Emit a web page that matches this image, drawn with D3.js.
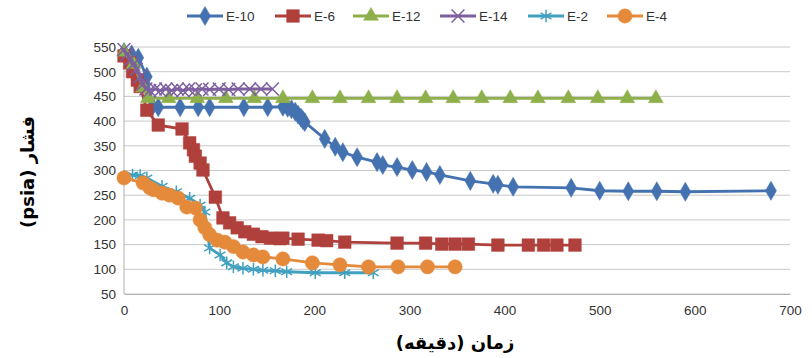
<!DOCTYPE html>
<html><head><meta charset="utf-8">
<script src="https://cdn.jsdelivr.net/npm/d3@7"></script>
<style>body{margin:0;background:#fff}svg{display:block}</style>
</head><body>
<svg id="c" width="812" height="358"></svg>
<script>
const seriesNames = ["E-10","E-6","E-12","E-14","E-2","E-4"];
const colors = ["#4472b0","#b0403c","#8eb04a","#7d5fa0","#40a0bf","#e58a3a"];
const xTicks = [0,100,200,300,400,500,600,700];
const yTicks = [50,100,150,200,250,300,350,400,450,500,550];

const e10 = [[0,540],[8,535],[15,528],[24,490],[30,430],[36,428],[59,428],[78,428],[90,428],[126,428],[151,428],[167,429],[172,427],[176,424],[180,419],[183,413],[186,407],[188,402],[190,398],[211,364],[222,348],[230,337],[245,327],[266,317],[272,311],[287,307],[303,301],[318,297],[332,291],[364,279],[388,273],[393,271],[409,267],[470,265],[500,259],[530,258],[560,258],[590,257],[680,259]];
const e6 = [[0,532],[6,518],[9,500],[14,483],[17,470],[24,422],[36,392],[61,384],[69,356],[73,342],[75,329],[80,315],[83,301],[96,246],[104,204],[111,194],[119,184],[127,176],[136,171],[145,166],[154,163],[164,162],[167,163],[183,161],[204,159],[213,158],[232,155],[287,153],[317,153],[334,151],[348,151],[362,151],[393,149],[425,149],[441,149],[455,149],[474,149]];
const e12 = [[0,540],[10,515],[20,468],[25,446],[47,446],[77,446],[107,446],[137,446],[167,446],[198,446],[227,446],[257,446],[287,446],[317,446],[346,446],[376,446],[406,446],[435,446],[467,446],[498,446],[529,446],[559,446]];
const e14 = [[0,545],[3,535],[7,525],[10,515],[13,505],[17,490],[20,475],[23,465],[27,462],[33,465],[38,462],[44,465],[50,462],[56,465],[62,462],[68,465],[75,463],[82,465],[90,464],[100,465],[110,464],[120,465],[132,465],[144,465],[156,465]];
const e2 = [[0,288],[9,291],[17,290],[24,285],[40,268],[55,257],[69,244],[80,230],[85,216],[90,143],[101,129],[108,113],[115,105],[125,102],[136,100],[146,98],[159,97],[171,95],[201,93],[232,93],[262,93]];
const e4 = [[0,285],[20,275],[27,265],[31,261],[40,254],[48,250],[57,244],[66,226],[75,224],[80,200],[85,184],[90,170],[98,159],[106,155],[115,146],[125,135],[136,129],[146,125],[167,121],[198,113],[227,109],[257,105],[288,105],[319,105],[348,105]];
const seriesData = [e10,e6,e12,e14,e2,e4];

const svg = d3.select("#c");
const x = d3.scaleLinear().domain([0,700]).range([124,790]);
const y = d3.scaleLinear().domain([50,550]).range([294,47]);

svg.append("g").selectAll("line").data(yTicks).join("line")
  .attr("x1",x(0)).attr("x2",x(700)).attr("y1",d=>y(d)).attr("y2",d=>y(d))
  .attr("stroke","#c8c8c8").attr("stroke-width",1);
svg.append("line").attr("x1",x(0)).attr("x2",x(0)).attr("y1",y(550)).attr("y2",y(50)).attr("stroke","#b0b0b0");

const fontTick = "Liberation Sans, Arial, sans-serif";
const yAxis = d3.axisLeft(y).tickValues(yTicks).tickSize(0).tickPadding(8);
const gy = svg.append("g").attr("transform",`translate(${x(0)},0)`).call(yAxis);
gy.select(".domain").remove();
gy.selectAll("text").attr("font-family",fontTick).attr("font-size",13.5).attr("fill","#333");
const xAxis = d3.axisBottom(x).tickValues(xTicks).tickSize(0).tickPadding(11);
const gx = svg.append("g").attr("transform",`translate(0,${y(50)})`).call(xAxis);
gx.select(".domain").attr("stroke","#b0b0b0");
gx.selectAll("text").attr("font-family",fontTick).attr("font-size",13.5).attr("fill","#333");

const symbols = [
  {t:d3.symbolDiamond,s:105,fill:true},
  {t:d3.symbolSquare,s:160,fill:true},
  {t:d3.symbolTriangle,s:95,fill:true},
  {t:d3.symbolX,s:110,fill:false},
  {t:d3.symbolAsterisk,s:110,fill:false},
  {t:d3.symbolCircle,s:160,fill:true}
];
const line = d3.line().x(d=>x(d[0])).y(d=>y(d[1]));
seriesData.forEach((data,i)=>{
  const g = svg.append("g");
  g.append("path").attr("d",line(data)).attr("fill","none").attr("stroke",colors[i]).attr("stroke-width",2.8).attr("stroke-linejoin","round");
  const sym = d3.symbol().type(symbols[i].t).size(symbols[i].s);
  g.selectAll("path.m").data(data).join("path").attr("class","m")
    .attr("transform",d=>`translate(${x(d[0])},${y(d[1])})`)
    .attr("d",sym)
    .attr("fill",symbols[i].fill?colors[i]:"none")
    .attr("stroke",colors[i]).attr("stroke-width",symbols[i].fill?0.5:1.5);
});

const legX = [187,275,353,440,528,607];
const lg = svg.append("g");
seriesNames.forEach((n,i)=>{
  const lx = legX[i], ly = 16;
  lg.append("line").attr("x1",lx).attr("x2",lx+36).attr("y1",ly).attr("y2",ly).attr("stroke",colors[i]).attr("stroke-width",2.8);
  lg.append("path").attr("transform",`translate(${lx+18},${ly})`).attr("d",d3.symbol().type(symbols[i].t).size(symbols[i].s)())
    .attr("fill",symbols[i].fill?colors[i]:"none").attr("stroke",colors[i]).attr("stroke-width",symbols[i].fill?0.5:1.5);
  lg.append("text").attr("x",lx+39).attr("y",ly+5).text(n).attr("font-family",fontTick).attr("font-size",13.5).attr("fill","#333");
});

svg.append("text").attr("x",455).attr("y",349).attr("text-anchor","middle")
  .attr("font-family","DejaVu Sans, sans-serif").attr("font-weight","bold").attr("font-size",18).attr("fill","#000")
  .attr("direction","rtl").text("زمان (دقیقه)");
svg.append("text").attr("transform","translate(34,172) rotate(-90)").attr("text-anchor","middle")
  .attr("font-family","DejaVu Sans, sans-serif").attr("font-weight","bold").attr("font-size",18).attr("fill","#000")
  .attr("direction","ltr").text("(psia) فشار");
</script>
</body></html>
